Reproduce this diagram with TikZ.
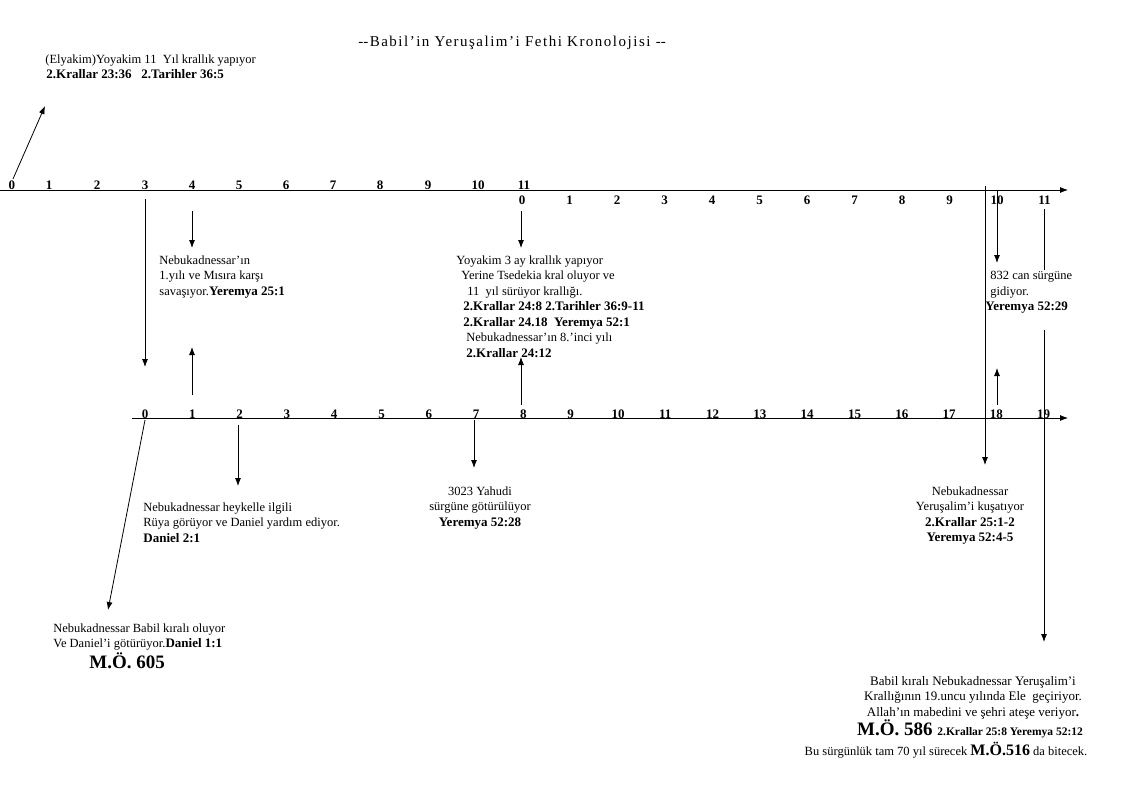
\documentclass[tikz,border=0pt]{standalone}
\usepackage{fontspec}
\setmainfont{Liberation Serif}
\usetikzlibrary{arrows.meta, calc}
\newcommand{\verseref}[1]{{\bfseries\fontsize{13}{15.5}\selectfont #1}}

\begin{document}
\begin{tikzpicture}[x=1pt, y=-1pt, line width=0.8pt, >={Latex[length=8pt, width=6pt]},
		txt/.style={inner sep=0pt, align=left, font=\fontsize{12.5}{15.5}\selectfont},
		ctxt/.style={txt, align=center},
		num/.style={inner sep=0pt, anchor=base, font=\bfseries\fontsize{13}{14}\selectfont},
		big/.style={inner sep=0pt, font=\bfseries\fontsize{19}{22}\selectfont}]
		\useasboundingbox (0, 0) rectangle (1123, 793);
		\node[font=\fontsize{15}{18}\selectfont\addfontfeature{LetterSpace=10}] (title) at (512, 43) {-\kern0pt-Babil’in Yeruşalim’i Fethi Kronolojisi -\kern0pt-};
		% time axes
		\coordinate (top_start) at (0, 190);
		\coordinate (top_end) at (1068, 190);
		\coordinate (bot_start) at (132, 418);
		\coordinate (bot_end) at (1068, 418);
		\draw[->] (top_start) -- (top_end);
		\draw[->] (bot_start) -- (bot_end);
		\foreach \i/\x in {0/12, 1/49, 2/97, 3/145, 4/192, 5/239, 6/286, 7/333, 8/380, 9/428, 10/478, 11/524}
			\node[num] (top_\i) at (\x, 189) {\i};
		\foreach \i in {0,...,11}
			\node[num] (mid_\i) at (522 + 47.5*\i, 204) {\i};
		\foreach \i in {0,...,19}
			\node[num] (bot_\i) at (145 + 47.3*\i, 418) {\i};
		% events
		\node[txt, anchor=north west] (elyakim) at (45, 54) {(Elyakim)Yoyakim 11~ Yıl krallık yapıyor\\ \hspace*{1pt}\verseref{2.Krallar 23:36~~~2.Tarihler 36:5}};
		\node[txt, anchor=north west] (nebu_first) at (159, 255) {Nebukadnessar’ın\\1.yılı ve Mısıra karşı\\savaşıyor.\verseref{Yeremya 25:1}};
		\node[txt, anchor=north west] (yoyakim_three) at (456, 255) {Yoyakim 3 ay krallık yapıyor\\ \hspace*{5pt}Yerine Tsedekia kral oluyor ve\\ \hspace*{11pt}11~ yıl sürüyor krallığı.\\ \hspace*{7pt}\verseref{2.Krallar 24:8 2.Tarihler 36:9-11}\\ \hspace*{7pt}\verseref{2.Krallar 24.18~ Yeremya 52:1}\\ \hspace*{10pt}Nebukadnessar’ın 8.’inci yılı\\ \hspace*{10pt}\verseref{2.Krallar 24:12}};
		\node[txt, anchor=north west] (exile_832) at (985, 271) {\hspace*{5pt}832 can sürgüne\\ \hspace*{5pt}gidiyor.\\ \verseref{Yeremya 52:29}};
		\node[txt, anchor=north west] (statue) at (143, 502) {Nebukadnessar heykelle ilgili\\Rüya görüyor ve Daniel yardım ediyor.\\ \verseref{Daniel 2:1}};
		\node[ctxt, anchor=north] (exile_3023) at (480, 486) {3023 Yahudi\\sürgüne götürülüyor\\ \verseref{Yeremya 52:28}};
		\node[ctxt, anchor=north] (siege) at (970, 486) {Nebukadnessar\\Yeruşalim’i kuşatıyor\\ \verseref{2.Krallar 25:1-2}\\ \verseref{Yeremya 52:4-5}};
		\node[txt, anchor=north west] (babil_king) at (53, 623) {Nebukadnessar Babil kıralı oluyor\\Ve Daniel’i götürüyor.\verseref{Daniel 1:1}};
		\node[big, anchor=base west] (mo_605) at (89, 668) {M.Ö. 605};
		\node[ctxt, anchor=north, font=\fontsize{13}{15.5}\selectfont] (conquest) at (973, 676) {Babil kıralı Nebukadnessar Yeruşalim’i\\Krallığının 19.uncu yılında Ele~ geçiriyor.\\Allah’ın mabedini ve şehri ateşe veriyor\textbf{.}};
		\node[big, anchor=base] (mo_586) at (970, 735) {M.Ö. 586 {\fontsize{11.5}{14}\selectfont 2.Krallar 25:8 Yeremya 52:12}};
		\node[txt, anchor=base] (seventy) at (946, 755) {Bu sürgünlük tam 70 yıl sürecek \textbf{\fontsize{16}{18}\selectfont M.Ö.516} da bitecek.};
		% connector ends
		\coordinate (elyakim_tip) at (45, 106);
		\coordinate (y3_from) at (145, 199);
		\coordinate (y3_tip) at (145, 367);
		\coordinate (nebu_in) at (192, 211);
		\coordinate (nebu_tip) at (192, 248);
		\coordinate (nebu_out) at (192, 395);
		\coordinate (nebu_up) at (192, 347);
		\coordinate (yoy_in) at (521, 211);
		\coordinate (yoy_tip) at (521, 248);
		\coordinate (yoy_out) at (521, 405);
		\coordinate (yoy_up) at (521, 357);
		\coordinate (siege_from) at (985, 186);
		\coordinate (siege_tip) at (985, 465);
		\coordinate (ex832_in) at (997, 191);
		\coordinate (ex832_tip) at (997, 263);
		\coordinate (ex832_out) at (997, 405);
		\coordinate (ex832_up) at (997, 368);
		\coordinate (y11_top) at (1044, 209);
		\coordinate (y11_mid) at (1044, 270);
		\coordinate (y19_from) at (1044, 330);
		\coordinate (y19_tip) at (1044, 642);
		\coordinate (statue_in) at (238, 425);
		\coordinate (statue_tip) at (238, 486);
		\coordinate (ex3023_in) at (474, 420);
		\coordinate (ex3023_tip) at (474, 468);
		\coordinate (king_from) at (145, 420);
		\coordinate (king_tip) at (108, 610);
		\draw[->] ($(top_0.north)+(1, -1)$) -- (elyakim_tip);
		\draw[->] (y3_from) -- (y3_tip);
		\draw[->] (nebu_in) -- (nebu_tip);
		\draw[->] (nebu_out) -- (nebu_up);
		\draw[->] (yoy_in) -- (yoy_tip);
		\draw[->] (yoy_out) -- (yoy_up);
		\draw[->] (siege_from) -- (siege_tip);
		\draw[->] (ex832_in) -- (ex832_tip);
		\draw[->] (ex832_out) -- (ex832_up);
		\draw (y11_top) -- (y11_mid);
		\draw[->] (y19_from) -- (y19_tip);
		\draw[->] (statue_in) -- (statue_tip);
		\draw[->] (ex3023_in) -- (ex3023_tip);
		\draw[->] (king_from) -- (king_tip);
	\end{tikzpicture}
\end{document}
